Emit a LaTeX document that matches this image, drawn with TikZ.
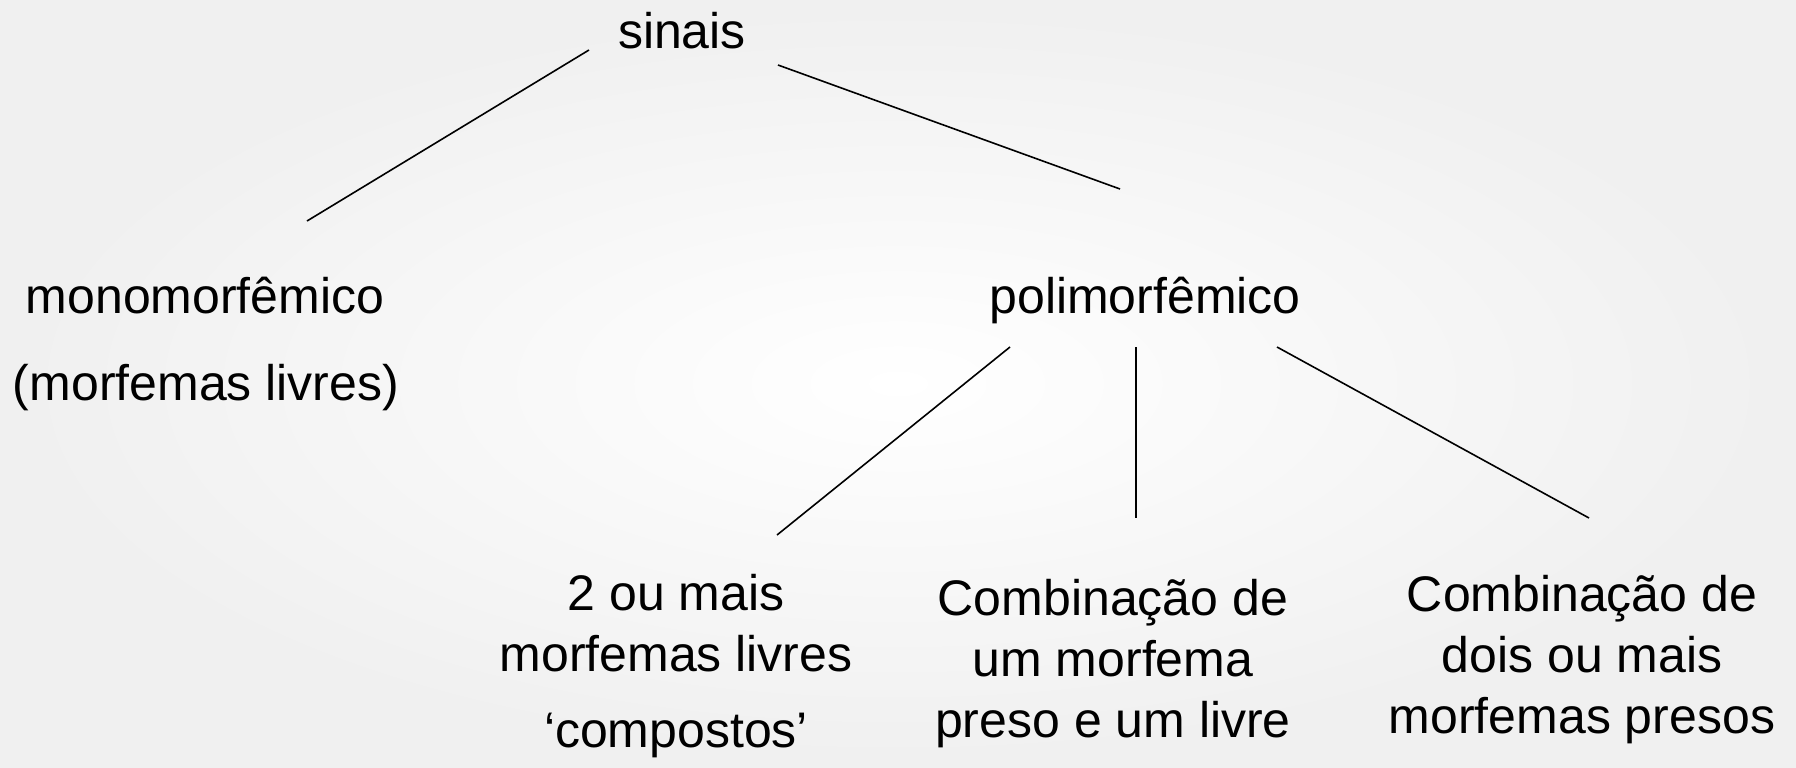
\documentclass[tikz,border=0pt]{standalone}
\usepackage{fontspec}
\setmainfont{Liberation Sans}
\begin{document}
\begin{tikzpicture}[x=0.5pt,y=-0.5pt,
  lbl/.style={inner sep=0pt,anchor=base,align=center,font=\fontsize{25}{30.5}\selectfont},
  conn/.style={line width=0.8pt,black}]
\shade[inner color=white,outer color=black!6] (0,0) rectangle (1796,767);
\useasboundingbox (0,0) rectangle (1796,767);
% nodes (multi-line nodes are placed at the baseline of their last line)
\node[lbl] (sin) at (682,48) {sinais};
\node[lbl] (mono) at (205,313) {monomorfêmico};
\node[lbl] (mlv) at (206,400) {(morfemas livres)};
\node[lbl] (poli) at (1145,313) {polimorfêmico};
\node[lbl] (comp) at (676,747) {2 ou mais\\morfemas livres\\[7.5pt]‘compostos’};
\node[lbl] (presl) at (1113,737) {Combinação de\\um morfema\\preso e um livre};
\node[lbl] (press) at (1582,733) {Combinação de\\dois ou mais\\morfemas presos};
% connector end points
\coordinate (s1) at (589,50);
\coordinate (s2) at (778,65);
\coordinate (m1) at (307,221);
\coordinate (p0) at (1120,189);
\coordinate (p1) at (1010,347);
\coordinate (p2) at (1136,347);
\coordinate (p3) at (1277,347);
\coordinate (c1) at (777,535);
\coordinate (c2) at (1136,518);
\coordinate (c3) at (1589,518);
\draw[conn] (s1) -- (m1);
\draw[conn] (s2) -- (p0);
\draw[conn] (p1) -- (c1);
\draw[conn] (p2) -- (c2);
\draw[conn] (p3) -- (c3);
\end{tikzpicture}
\end{document}
